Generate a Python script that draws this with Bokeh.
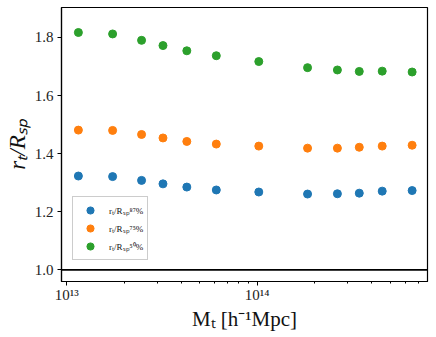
from bokeh.plotting import figure
from bokeh.models import Span, Legend, LegendItem, FixedTicker, CustomJSTickFormatter, Range1d, PrintfTickFormatter
from bokeh.embed import file_html
from bokeh.resources import INLINE

# Data
mass = [1.15e13, 1.74e13, 2.47e13, 3.20e13, 4.27e13, 6.10e13,
        1.02e14, 1.84e14, 2.64e14, 3.44e14, 4.54e14, 6.52e14]
ratio_87 = [1.323, 1.321, 1.308, 1.296, 1.285, 1.275,
            1.268, 1.261, 1.262, 1.264, 1.271, 1.273]
ratio_75 = [1.481, 1.480, 1.466, 1.454, 1.442, 1.433,
            1.426, 1.419, 1.419, 1.422, 1.426, 1.429]
ratio_50 = [1.817, 1.812, 1.790, 1.772, 1.754, 1.737,
            1.717, 1.696, 1.688, 1.683, 1.684, 1.681]
labels = ["rₜ/Rₛₚ⁸⁷%", "rₜ/Rₛₚ⁷⁵%", "rₜ/Rₛₚ⁵⁰%"]
colors = ["#1f77b4", "#ff7f0e", "#2ca02c"]
ref_level = 1.0
x_major = [1e13, 1e14]
x_minor = [2e13, 3e13, 4e13, 5e13, 6e13, 7e13, 8e13, 9e13,
           2e14, 3e14, 4e14, 5e14, 6e14, 7e14]
y_major = [1.0, 1.2, 1.4, 1.6, 1.8]

FONT = "Liberation Serif"

p = figure(width=436, height=337, x_axis_type="log",
           x_range=Range1d(10**12.972, 10**14.895), y_range=Range1d(0.96, 1.903),
           output_backend="svg", toolbar_location=None,
           min_border_left=61, min_border_right=9, min_border_top=7, min_border_bottom=56)

p.xgrid.visible = False
p.ygrid.visible = False
p.outline_line_color = "black"
p.outline_line_width = 1.2
p.background_fill_color = "white"

rends = []
for ys, c in zip([ratio_87, ratio_75, ratio_50], colors):
    r = p.scatter(mass, ys, size=8, color=c, line_color=c)
    rends.append(r)

p.add_layout(Span(location=ref_level, dimension="width", line_color="black", line_width=1.6))

legend = Legend(items=[LegendItem(label=l, renderers=[r]) for l, r in zip(labels, rends)],
                location=(11, 21), label_text_font=FONT, label_text_font_size="9px",
                label_text_color="#111111",
                padding=4, spacing=0, label_height=18, glyph_height=18, glyph_width=26,
                label_standoff=6, border_line_color="#cccccc", border_line_alpha=1,
                background_fill_alpha=0.8, margin=0)
p.add_layout(legend)

for ax in [p.xaxis[0], p.yaxis[0]]:
    ax.axis_line_color = "black"
    ax.axis_line_width = 1.2
    ax.major_tick_line_color = "black"
    ax.minor_tick_line_color = "black"
    ax.major_tick_in = 0
    ax.minor_tick_in = 0
    ax.major_label_text_font = FONT
    ax.major_label_text_font_size = "15px"
    ax.major_label_text_color = "#222222"
    ax.axis_label_text_font = FONT
    ax.axis_label_text_color = "#111111"

p.xaxis.ticker = FixedTicker(ticks=x_major, minor_ticks=x_minor)
p.xaxis.major_tick_out = 4
p.xaxis.minor_tick_out = 2
p.xaxis.formatter = CustomJSTickFormatter(code="""
const sup = {'0':'\u2070','1':'\u00b9','2':'\u00b2','3':'\u00b3','4':'\u2074','5':'\u2075','6':'\u2076','7':'\u2077','8':'\u2078','9':'\u2079','-':'\u207b'};
const e = Math.round(Math.log10(tick));
return '10' + String(e).split('').map(c => sup[c]).join('');
""")
p.xaxis.major_label_standoff = 1
p.xaxis.axis_label = "Mₜ [h⁻¹Mpc]"
p.xaxis.axis_label_text_font_size = "21px"
p.xaxis.axis_label_text_font_style = "normal"
p.xaxis.axis_label_standoff = 1

p.yaxis.ticker = FixedTicker(ticks=y_major)
p.yaxis.formatter = PrintfTickFormatter(format="%.1f")
p.yaxis.major_tick_out = 4
p.yaxis.minor_tick_out = 0
p.yaxis.major_label_standoff = 4
p.yaxis.axis_label = "rₜ/Rₛₚ"
p.yaxis.axis_label_text_font_size = "23px"
p.yaxis.axis_label_text_font_style = "italic"
p.yaxis.axis_label_standoff = 2

open("out.html", "w").write(file_html(p, INLINE))
